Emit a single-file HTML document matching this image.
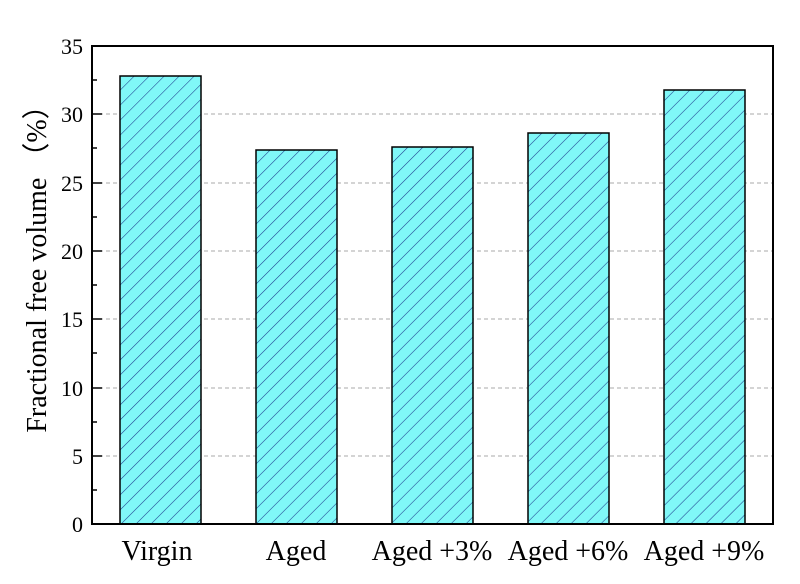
<!DOCTYPE html>
<html><head><style>body{margin:0;background:#fff}</style></head><body>
<svg width="800" height="579" xmlns="http://www.w3.org/2000/svg" font-family="Liberation Serif, serif">
<defs>
<pattern id="h" patternUnits="userSpaceOnUse" width="10.6" height="10.6" patternTransform="rotate(45)">
<rect width="10.6" height="10.6" fill="#80f8f8"/>
<line x1="0" y1="0" x2="0" y2="10.6" stroke="#1f3f8f" stroke-width="1.1"/>
</pattern>
</defs>
<g stroke="#aaa" stroke-dasharray="4,3" stroke-width="1">
<line x1="92" x2="773" y1="456" y2="456"/><line x1="92" x2="773" y1="388" y2="388"/>
<line x1="92" x2="773" y1="319" y2="319"/><line x1="92" x2="773" y1="251" y2="251"/>
<line x1="92" x2="773" y1="183" y2="183"/><line x1="92" x2="773" y1="114" y2="114"/>
</g>
<g fill="url(#h)" stroke="#000" stroke-width="1.5">
<rect x="120" y="76" width="81" height="448"/>
<rect x="256" y="150" width="81" height="374"/>
<rect x="392" y="147" width="81" height="377"/>
<rect x="528" y="133" width="81" height="391"/>
<rect x="664" y="90" width="81" height="434"/>
</g>
<rect x="92" y="46" width="681" height="478" fill="none" stroke="#000" stroke-width="2"/>
<g stroke="#000" stroke-width="1.5">
<line x1="92" x2="102" y1="456" y2="456"/><line x1="92" x2="102" y1="388" y2="388"/>
<line x1="92" x2="102" y1="319" y2="319"/><line x1="92" x2="102" y1="251" y2="251"/>
<line x1="92" x2="102" y1="183" y2="183"/><line x1="92" x2="102" y1="114" y2="114"/>
<line x1="92" x2="97" y1="490" y2="490"/><line x1="92" x2="97" y1="422" y2="422"/>
<line x1="92" x2="97" y1="353" y2="353"/><line x1="92" x2="97" y1="285" y2="285"/>
<line x1="92" x2="97" y1="217" y2="217"/><line x1="92" x2="97" y1="148" y2="148"/>
<line x1="92" x2="97" y1="80" y2="80"/>
</g>
<g font-size="22" text-anchor="end">
<text x="83" y="532">0</text><text x="83" y="464">5</text><text x="83" y="396">10</text>
<text x="83" y="327">15</text><text x="83" y="259">20</text><text x="83" y="191">25</text>
<text x="83" y="122">30</text><text x="83" y="54">35</text>
</g>
<g font-size="28" text-anchor="middle">
<text x="157" y="560">Virgin</text><text x="296" y="560">Aged</text>
<text x="432" y="560">Aged +3%</text><text x="568" y="560">Aged +6%</text>
<text x="704" y="560">Aged +9%</text>
</g>
<text transform="translate(46,262) rotate(-90)" font-size="28" text-anchor="middle">Fractional free volume （%）</text>
</svg>
</body></html>
